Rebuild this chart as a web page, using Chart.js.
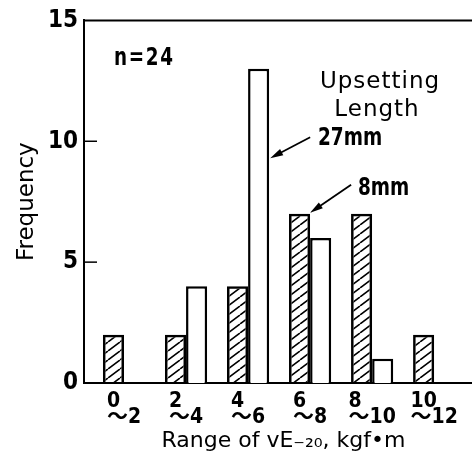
<!DOCTYPE html>
<html>
<head>
<meta charset="utf-8">
<script src="https://cdn.jsdelivr.net/npm/chart.js@4.4.0/dist/chart.umd.min.js"></script>
<style>
  html, body { margin: 0; padding: 0; background: #fff; }
</style>
</head>
<body>
<canvas id="grafico" width="472" height="465"></canvas>
<script>
// range bins (kgf·m)
const rangeFrom = ['0', '2', '4', '6', '8', '10'];
const rangeTo = ['2', '4', '6', '8', '10', '12'];
const binIndex = [0, 1, 2, 3, 4, 5];
// frequency per upsetting length
const freq8mm = [2, 2, 4, 7, 7, 2];
const freq27mm = [0, 4, 13, 6, 1, 0];
const yTickValues = [0, 5, 10, 15];

const NARROW = "'Liberation Sans Narrow', 'DejaVu Sans Condensed', 'Noto Sans CJK JP', sans-serif";
const GOTHIC = "'DejaVu Sans', sans-serif";

const canvas = document.getElementById('grafico');
const ctx = canvas.getContext('2d');

// diagonal hatch for the 8mm bars
function makeHatch() {
  const c = document.createElement('canvas');
  c.width = 12; c.height = 9;
  const g = c.getContext('2d');
  g.strokeStyle = '#000';
  g.lineWidth = 1.6;
  g.beginPath();
  g.moveTo(0, 9); g.lineTo(12, 0);
  g.moveTo(-12, 9); g.lineTo(0, 0);
  g.moveTo(12, 9); g.lineTo(24, 0);
  g.stroke();
  return ctx.createPattern(c, 'repeat');
}

function arrow(c, x1, y1, x2, y2) {
  const a = Math.atan2(y2 - y1, x2 - x1);
  c.beginPath();
  c.moveTo(x1, y1);
  c.lineTo(x2 - 8 * Math.cos(a), y2 - 8 * Math.sin(a));
  c.lineWidth = 1.8;
  c.stroke();
  c.beginPath();
  c.moveTo(x2, y2);
  c.lineTo(x2 - 13 * Math.cos(a) + 3.5 * Math.sin(a), y2 - 13 * Math.sin(a) - 3.5 * Math.cos(a));
  c.lineTo(x2 - 13 * Math.cos(a) - 3.5 * Math.sin(a), y2 - 13 * Math.sin(a) + 3.5 * Math.cos(a));
  c.closePath();
  c.fill();
}

// tall narrow text, squeezed horizontally
function narrowText(c, txt, x, y, size, sx) {
  c.save();
  c.translate(x, y);
  c.scale(sx, 1);
  c.font = 'bold ' + size + 'px ' + NARROW;
  c.fillText(txt, 0, 0);
  c.restore();
}

const extras = {
  id: 'extras',
  afterDraw(chart) {
    const c = chart.ctx;
    const area = chart.chartArea;
    const ys = chart.scales.y;
    c.save();
    c.strokeStyle = '#000';
    c.fillStyle = '#000';

    // top frame line
    c.lineWidth = 2;
    c.beginPath();
    c.moveTo(area.left - 1, area.top);
    c.lineTo(area.right, area.top);
    c.stroke();

    // inward tick marks
    c.lineWidth = 1.5;
    [5, 10].forEach(v => {
      const y = ys.getPixelForValue(v);
      c.beginPath();
      c.moveTo(area.left, y);
      c.lineTo(area.left + 13, y);
      c.stroke();
    });

    // labels
    c.textBaseline = 'alphabetic';
    c.textAlign = 'left';
    c.letterSpacing = '2px';
    narrowText(c, 'n=24', area.left + 30, area.top + 45, 24, 0.85);

    c.letterSpacing = '1px';
    c.textAlign = 'center';
    c.font = '23px ' + GOTHIC;
    c.fillText('Upsetting', area.left + 296, area.top + 68);
    c.fillText('Length', area.left + 293, area.top + 96);

    c.letterSpacing = '0px';
    c.textAlign = 'left';
    narrowText(c, '27mm', area.left + 234, area.top + 125, 25, 0.82);
    narrowText(c, '8mm', area.left + 274, area.top + 175, 25, 0.82);

    // arrows pointing to the bars
    const bar27 = chart.getDatasetMeta(1).data[2];
    const tip27x = bar27.x + bar27.width / 2 + 1;
    const tip27y = ys.getPixelForValue(9.3);
    arrow(c, tip27x + 40, tip27y - 21, tip27x, tip27y);

    const bar8 = chart.getDatasetMeta(0).data[3];
    const tip8x = bar8.x + bar8.width / 2;
    const tip8y = bar8.y - 1;
    arrow(c, tip8x + 41, tip8y - 28, tip8x, tip8y);

    c.restore();
  }
};

new Chart(ctx, {
  type: 'bar',
  data: {
    datasets: [{
      label: '8mm',
      data: binIndex.map((x, i) => ({ x: x, y: freq8mm[i] })),
      backgroundColor: makeHatch(),
      borderColor: '#000',
      borderWidth: 2.5
    }, {
      label: '27mm',
      data: binIndex.map((x, i) => ({ x: x, y: freq27mm[i] })),
      backgroundColor: '#fff',
      borderColor: '#000',
      borderWidth: 2.5
    }]
  },
  options: {
    responsive: false,
    animation: false,
    categoryPercentage: 0.68,
    barPercentage: 1,
    layout: { padding: { top: 17, right: 0, left: 0, bottom: 0 } },
    plugins: { legend: { display: false }, tooltip: { enabled: false } },
    scales: {
      x: {
        type: 'linear',
        min: -0.645,
        max: 5.61,
        offset: false,
        grid: { display: false, drawTicks: false, offset: false },
        border: { color: '#000', width: 2 },
        afterBuildTicks: s => { s.ticks = binIndex.map(v => ({ value: v })); },
        afterFit: s => { s.height = 82; },
        ticks: {
          autoSkip: false,
          maxRotation: 0,
          color: '#000',
          padding: 10,
          font: { family: NARROW, size: 21, weight: 'bold', lineHeight: 0.78 },
          callback: v => {
            const i = binIndex.indexOf(v);
            const lo = rangeFrom[i], hi = rangeTo[i];
            return [lo + '\u3000' + '\u2007'.repeat(hi.length - lo.length), '\uFF5E' + hi];
          }
        },
        title: {
          display: true,
          text: '\u2002Range of vE\u208B\u2082\u2080, kgf\u2022m',
          color: '#000',
          font: { family: GOTHIC, size: 22 },
          padding: { top: 0, bottom: 11 }
        }
      },
      y: {
        min: 0,
        max: 15,
        grid: { display: false, drawTicks: false },
        border: { color: '#000', width: 2 },
        afterBuildTicks: s => { s.ticks = yTickValues.map(v => ({ value: v })); },
        afterFit: s => { s.width = 84; },
        ticks: {
          color: '#000',
          padding: 6,
          font: { family: NARROW, size: 24, weight: 'bold' }
        },
        title: {
          display: true,
          text: 'Frequency',
          color: '#000',
          font: { family: GOTHIC, size: 23 },
          padding: { top: 13, bottom: 0 }
        }
      }
    }
  },
  plugins: [extras]
});
</script>
</body>
</html>
